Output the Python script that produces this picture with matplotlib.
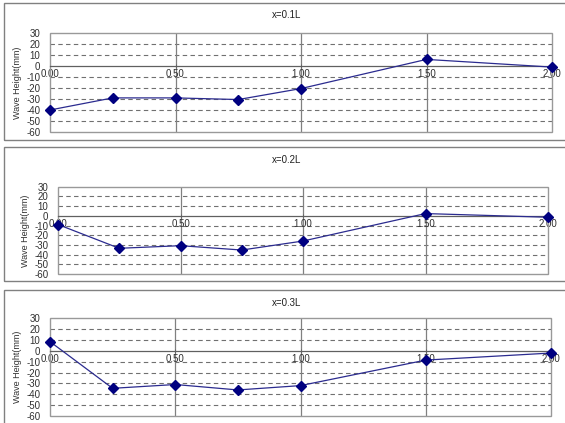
import matplotlib
matplotlib.use("Agg")

import matplotlib.pyplot as plt
from matplotlib.patches import Rectangle

# position along the hull (x/L) and wave height for each section
positions = [0.0, 0.25, 0.5, 0.75, 1.0, 1.5, 2.0]
height_01 = [-40, -29, -29, -30.5, -20.5, 6, -1]
height_02 = [-9, -33.5, -30.8, -35.3, -26, 2.3, -1.5]
height_03 = [8.5, -34.5, -31, -36, -32, -8.5, -2]

titles = ["x=0.1L", "x=0.2L", "x=0.3L"]
series = [height_01, height_02, height_03]
x_ticks = [0.0, 0.5, 1.0, 1.5, 2.0]
x_labels = ["0.00", "0.50", "1.00", "1.50", "2.00"]
y_ticks = [-60, -50, -40, -30, -20, -10, 0, 10, 20, 30]
y_dashed = [-50, -40, -30, -20, -10, 10, 20]

plt.rcParams["font.family"] = ["Liberation Sans", "DejaVu Sans"]

W, H = 565, 423
fig = plt.figure(figsize=(W / 100, H / 100), dpi=100)

# plot areas in pixels: left, top, right, bottom
plot_boxes = [(50, 33, 552, 132), (58, 186.7, 548, 274), (50, 318.3, 551, 416)]
# outer chart frames in pixels: top, bottom
frames = [(3, 140), (147, 281), (290, 440)]
title_y = [15, 160, 303]

for i in range(3):
    top, bottom = frames[i]
    fig.add_artist(Rectangle((4 / W, 1 - bottom / H), 1.2, (bottom - top) / H,
                             transform=fig.transFigure, fill=False,
                             edgecolor="#808080", linewidth=1.0))
    fig.text(287 / W, 1 - title_y[i] / H, titles[i], ha="center", va="center",
             fontsize=7, color="#202020")

    l, t, r, b = plot_boxes[i]
    ax = fig.add_axes([l / W, 1 - b / H, (r - l) / W, (b - t) / H])
    ax.set_xlim(0, 2.0)
    ax.set_ylim(-60, 30)

    for v in y_dashed:
        ax.axhline(v, color="#707070", linewidth=0.8, linestyle=(0, (4, 3)), zorder=1)
    for v in x_ticks[1:-1]:
        ax.axvline(v, color="#808080", linewidth=0.9, zorder=1)

    ax.plot(positions, series[i], color="#2b2b8f", linewidth=0.9,
            marker="D", markersize=5, markerfacecolor="#000080",
            markeredgecolor="#000080", zorder=3, clip_on=False)

    for s in ["top", "left", "right"]:
        ax.spines[s].set_visible(False)
    ax.spines["bottom"].set_position(("data", 0))
    ax.spines["bottom"].set_color("#606060")
    ax.spines["bottom"].set_linewidth(0.9)
    ax.add_patch(Rectangle((0, 0), 1, 1, transform=ax.transAxes, fill=False,
                           edgecolor="#999999", linewidth=1.0, zorder=2,
                           clip_on=False))

    ax.set_xticks(x_ticks)
    ax.set_xticklabels(x_labels)
    ax.set_yticks(y_ticks)
    ax.set_yticklabels([str(v) for v in y_ticks])
    ax.tick_params(axis="x", length=3, direction="inout", width=0.6,
                   colors="#606060", labelcolor="#303030", labelsize=7, pad=1)
    ax.tick_params(axis="y", length=0, labelsize=7, labelcolor="#303030", pad=7)
    ax.set_ylabel("Wave Height(mm)", fontsize=6.5, color="#303030", labelpad=3)

fig.savefig("out.png", dpi=100, facecolor="white")
